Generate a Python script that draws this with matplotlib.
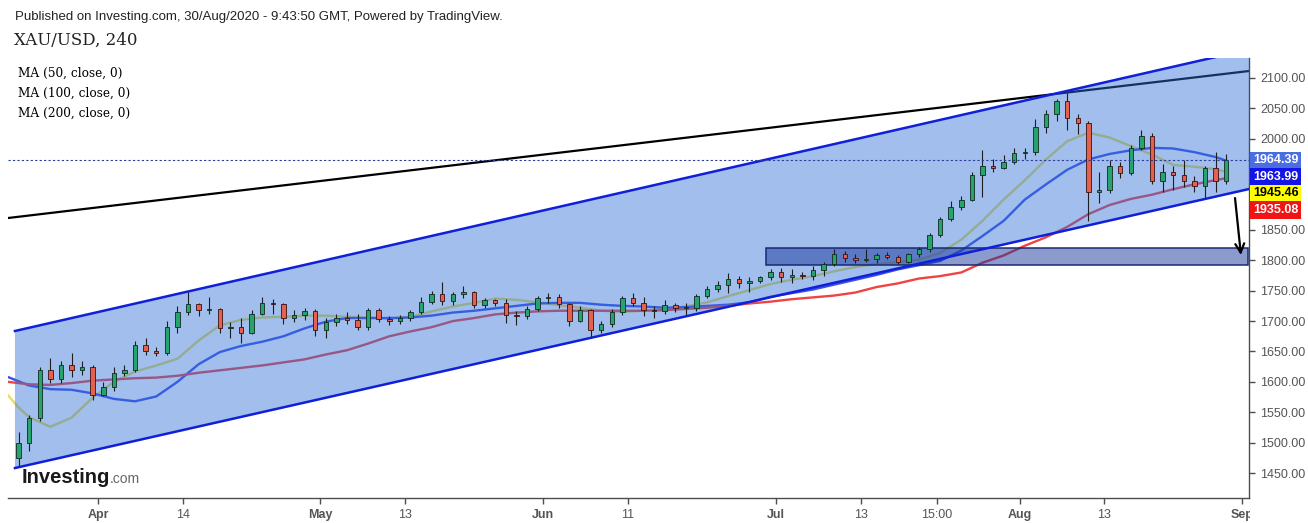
import numpy as np
import pandas as pd
import matplotlib
matplotlib.use('Agg')
import matplotlib.pyplot as plt
from matplotlib.transforms import Bbox, TransformedBbox

plt.rcParams['font.family'] = ['Liberation Sans', 'DejaVu Sans']

# ---- data (XAU/USD, one candle per trading day) ----
opens = [1475, 1500, 1540, 1620, 1605, 1628, 1620, 1625,
         1578, 1592, 1614, 1620, 1660, 1650, 1648, 1690, 1715, 1728, 1718, 1720, 1688, 1690, 1680, 1712,
         1730, 1728, 1705, 1710, 1716,
         1685, 1698, 1705, 1702, 1690, 1718, 1703, 1700, 1705, 1715, 1732, 1745, 1733, 1745, 1748, 1726,
         1734, 1730, 1710, 1708, 1720,
         1738, 1740, 1728, 1700, 1718, 1685, 1695, 1715, 1738, 1730, 1718, 1716, 1726, 1722, 1722, 1742,
         1752, 1760, 1770, 1762, 1766, 1772,
         1780, 1772, 1776, 1774, 1784, 1794, 1810, 1803, 1800, 1802, 1808, 1806, 1798, 1810, 1818, 1842,
         1868, 1888, 1900, 1940, 1955, 1952, 1962,
         1976, 1978, 2020, 2040, 2062, 2034, 2026, 1912, 1915, 1955, 1944, 1985, 2005, 1930, 1946, 1940,
         1930, 1922, 1952, 1930]
highs = [1517, 1545, 1625, 1640, 1635, 1648, 1635, 1628,
         1600, 1625, 1627, 1668, 1672, 1658, 1700, 1725, 1748, 1730, 1740, 1722, 1698, 1705, 1718, 1740,
         1736, 1730, 1718, 1722, 1720,
         1705, 1712, 1715, 1712, 1722, 1722, 1708, 1710, 1718, 1740, 1750, 1765, 1748, 1757, 1750, 1738,
         1737, 1736, 1716, 1725, 1742,
         1746, 1745, 1730, 1725, 1720, 1700, 1720, 1742, 1746, 1740, 1725, 1735, 1730, 1730, 1745, 1758,
         1766, 1779, 1775, 1772, 1775, 1786,
         1788, 1785, 1780, 1790, 1797, 1818, 1815, 1810, 1818, 1812, 1814, 1808, 1812, 1822, 1845, 1872,
         1898, 1906, 1945, 1981, 1966, 1973, 1984,
         1985, 2032, 2048, 2066, 2075, 2040, 2030, 1945, 1965, 1962, 1990, 2015, 2010, 1958, 1955, 1965,
         1938, 1956, 1978, 1975]
lows = [1462, 1486, 1535, 1598, 1598, 1608, 1612, 1570,
        1576, 1585, 1610, 1617, 1644, 1643, 1645, 1680, 1710, 1708, 1712, 1680, 1672, 1664, 1678, 1710,
        1712, 1695, 1698, 1702, 1675,
        1672, 1692, 1695, 1685, 1686, 1698, 1693, 1696, 1700, 1712, 1728, 1727, 1726, 1738, 1722, 1722,
        1725, 1697, 1693, 1703, 1716,
        1730, 1722, 1692, 1698, 1672, 1680, 1690, 1710, 1725, 1708, 1705, 1712, 1715, 1710, 1716, 1738,
        1748, 1746, 1755, 1748, 1762, 1768,
        1764, 1762, 1770, 1768, 1774, 1790, 1797, 1795, 1797, 1796, 1802, 1794, 1796, 1806, 1813, 1838,
        1865, 1882, 1898, 1905, 1946, 1950, 1958,
        1966, 1974, 2010, 2030, 2015, 2008, 1864, 1895, 1910, 1935, 1940, 1982, 1925, 1912, 1915, 1920,
        1912, 1902, 1912, 1925]
closes = [1500, 1540, 1620, 1605, 1628, 1620, 1625, 1578,
          1592, 1614, 1620, 1660, 1650, 1648, 1690, 1715, 1728, 1718, 1720, 1688, 1690, 1680, 1712, 1730,
          1728, 1705, 1710, 1716, 1685,
          1698, 1705, 1702, 1690, 1718, 1703, 1700, 1705, 1715, 1732, 1745, 1733, 1745, 1748, 1726, 1734,
          1730, 1710, 1708, 1720, 1738,
          1740, 1728, 1700, 1718, 1685, 1695, 1715, 1738, 1730, 1718, 1716, 1726, 1722, 1722, 1742, 1752,
          1760, 1770, 1762, 1766, 1772, 1780,
          1772, 1776, 1774, 1784, 1794, 1810, 1803, 1800, 1802, 1808, 1806, 1798, 1810, 1818, 1842, 1868,
          1888, 1900, 1940, 1955, 1952, 1962, 1976,
          1978, 2020, 2040, 2062, 2034, 2026, 1912, 1915, 1955, 1944, 1985, 2005, 1930, 1946, 1940, 1930,
          1922, 1952, 1930, 1964.39]

# moving averages, sampled along the chart
ma_dates = ['2020-03-19', '2020-03-20', '2020-03-23', '2020-03-25', '2020-03-27', '2020-03-31',
            '2020-04-02', '2020-04-06', '2020-04-08', '2020-04-13', '2020-04-15', '2020-04-17',
            '2020-04-21', '2020-04-23', '2020-04-27', '2020-04-29',
            '2020-05-01', '2020-05-05', '2020-05-07', '2020-05-11', '2020-05-13', '2020-05-15',
            '2020-05-19', '2020-05-21', '2020-05-25', '2020-05-27', '2020-05-29',
            '2020-06-02', '2020-06-04', '2020-06-08', '2020-06-10', '2020-06-12', '2020-06-16',
            '2020-06-18', '2020-06-22', '2020-06-24', '2020-06-26', '2020-06-30',
            '2020-07-02', '2020-07-06', '2020-07-08', '2020-07-10', '2020-07-14', '2020-07-16',
            '2020-07-20', '2020-07-22', '2020-07-24', '2020-07-28', '2020-07-30',
            '2020-08-03', '2020-08-05', '2020-08-07', '2020-08-11', '2020-08-13', '2020-08-17',
            '2020-08-19', '2020-08-21', '2020-08-25', '2020-08-27', '2020-08-28']
ma50 = [1578, 1558, 1542, 1526, 1541, 1574,
        1600, 1617, 1627, 1638, 1668, 1693, 1702, 1706, 1707, 1709,
        1709, 1707, 1706, 1704, 1707, 1716, 1724, 1730, 1737, 1735, 1731,
        1726, 1722, 1717, 1715, 1717, 1720, 1724, 1731, 1741, 1751, 1761,
        1768, 1774, 1782, 1789, 1794, 1797, 1801, 1812, 1834, 1865, 1900,
        1932, 1966, 1996, 2010, 2002, 1988, 1974, 1957, 1954, 1950, 1945.46]
ma100 = [1608, 1601, 1594, 1588, 1587, 1581,
         1572, 1568, 1576, 1600, 1629, 1649, 1659, 1666, 1675, 1688,
         1699, 1705, 1705, 1705, 1706, 1709, 1714, 1717, 1721, 1725, 1729,
         1730, 1730, 1727, 1725, 1724, 1722, 1723, 1725, 1727, 1731, 1740,
         1746, 1752, 1760, 1768, 1776, 1785, 1792, 1799, 1816, 1840, 1865,
         1900, 1925, 1949, 1966, 1975, 1981, 1985, 1984, 1978, 1970, 1963.99]
ma200 = [1600, 1598, 1596, 1595, 1598, 1602,
         1604, 1606, 1607, 1610, 1615, 1619, 1623, 1627, 1632, 1637,
         1645, 1652, 1663, 1675, 1683, 1690, 1700, 1705, 1711, 1714, 1716,
         1717, 1717, 1717, 1717, 1717, 1718, 1720, 1722, 1725, 1729, 1732,
         1736, 1739, 1742, 1747, 1756, 1762, 1770, 1774, 1780, 1796, 1808,
         1824, 1838, 1855, 1876, 1891, 1901, 1908, 1917, 1925, 1932, 1935.08]

# drawings (day position, price)
channel_x = [-7.84, 108.66]
channel_upper = [1683.7, 2147.0]
channel_lower = [1458.2, 1917.3]
trend_x = [-8.5, 108.66]
trend_y = [1869.6, 2111.5]
zone_x = [63.03, 108.6]
zone_y = [1793.0, 1820.3]
arrow_from = (107.34, 1902.5)
arrow_to = (107.9, 1808.7)

tick_dates = ['2020-04-01', '2020-04-14', '2020-05-01', '2020-05-13', '2020-06-01', '2020-06-11',
              '2020-07-01', '2020-07-13', '2020-07-22', '2020-08-03', '2020-08-13', '2020-09-01']
tick_labels = ['Apr', '14', 'May', '13', 'Jun', '11', 'Jul', '13', '15:00', 'Aug', '13', 'Sep']
tick_shift = [0, 0, 0, 0, 0, 0, 0, 0, 0.2, 0, 0, 0]
month_labels = ['Apr', 'May', 'Jun', 'Jul', 'Aug', 'Sep']
price_ticks = [1450, 1500, 1550, 1600, 1650, 1700, 1750, 1800, 1850, 2000, 2050, 2100]

# trading-day axis (no bars on Good Friday)
axis_days = pd.bdate_range('2020-03-19', '2020-09-01')
axis_days = axis_days[axis_days != pd.Timestamp('2020-04-10')]
day0 = axis_days.get_loc(pd.Timestamp('2020-04-01'))


def day_pos(d):
    return axis_days.get_loc(pd.Timestamp(d)) - day0


candle_days = axis_days[(axis_days >= '2020-03-20') & (axis_days <= '2020-08-28')]
cx = np.array([day_pos(d) for d in candle_days]) + 0.5
o = np.array(opens, float)
h = np.array(highs, float)
l = np.array(lows, float)
c = np.array(closes, float)
mx = np.array([day_pos(d) for d in ma_dates]) + 0.5

W, H = 1308, 523
fig = plt.figure(figsize=(W / 100, H / 100), dpi=100)
ax = fig.add_axes([8 / W, 25 / H, 1241 / W, 440 / H])
ax.set_xlim(-8.496, 108.66)
ax.set_ylim(1408.9, 2132.9)

# moving averages and long trend line sit under the channel fill
ax.plot(mx, ma50, color='#e8e05a', lw=1.7, zorder=2)
ax.plot(mx, ma100, color='#3a52ea', lw=1.7, zorder=2)
ax.plot(mx, ma200, color='#ee4444', lw=1.7, zorder=2)
ax.plot(trend_x, trend_y, color='black', lw=1.6, zorder=2)

# channel
ax.fill([channel_x[0], channel_x[1], channel_x[1], channel_x[0]],
        [channel_upper[0], channel_upper[1], channel_lower[1], channel_lower[0]],
        color='#2f6fd6', alpha=0.45, lw=0, zorder=3)
ax.fill([zone_x[0], zone_x[1], zone_x[1], zone_x[0]],
        [zone_y[0], zone_y[0], zone_y[1], zone_y[1]],
        facecolor=(0.08, 0.2, 0.6, 0.49), edgecolor='#1a2a70', lw=1.1, zorder=4)

# candles
up = c >= o
ax.vlines(cx, l, h, color='#1e1e1e', lw=0.8, zorder=5)
body = np.maximum(np.abs(c - o), 0.8)
ax.bar(cx[up], body[up], bottom=o[up], width=0.42, color='#26a36f',
       edgecolor='#112a1e', lw=0.6, zorder=6)
ax.bar(cx[~up], body[~up], bottom=c[~up], width=0.42, color='#e4604f',
       edgecolor='#3a1010', lw=0.6, zorder=6)

ax.plot(channel_x, channel_upper, color='#1020d8', lw=1.8, zorder=7)
ax.plot(channel_x, channel_lower, color='#1020d8', lw=1.8, zorder=7)
ax.axhline(c[-1], color='#2c3e9a', lw=0.8, ls=(0, (2, 2)), zorder=7)
ax.annotate('', xy=arrow_to, xytext=arrow_from, zorder=9,
            arrowprops=dict(arrowstyle='->', color='black', lw=1.6,
                            mutation_scale=16, shrinkA=0, shrinkB=0))

# axes styling
for s in ['left', 'top']:
    ax.spines[s].set_visible(False)
for s in ['bottom', 'right']:
    ax.spines[s].set_color('#4d4d4d')
    ax.spines[s].set_linewidth(1.0)
ax.yaxis.tick_right()
ax.set_yticks(price_ticks)
ax.set_yticklabels([f'{v:.2f}' for v in price_ticks])
ax.tick_params(axis='y', length=4, width=1, color='#4d4d4d', labelcolor='#555555',
               labelsize=9, pad=4)
ax.set_xticks([day_pos(d) + s for d, s in zip(tick_dates, tick_shift)])
ax.set_xticklabels(tick_labels)
ax.tick_params(axis='x', length=4, width=1, color='#4d4d4d', labelcolor='#555555',
               labelsize=9, pad=4)
clip = TransformedBbox(Bbox([[0, 0], [1250 / W, 1]]), fig.transFigure)
for t in ax.get_xticklabels():
    if t.get_text() in month_labels:
        t.set_fontweight('bold')
    t.set_clip_box(clip)
    t.set_clip_on(True)

# last-value labels on the price scale
last_labels = [(c[-1], '#4a6ee0', 'white'), (ma100[-1], '#1414e6', 'white'),
               (ma50[-1], '#ffff00', 'black'), (ma200[-1], '#f01414', 'white')]
for i, (v, bg, fg) in enumerate(last_labels):
    ax.annotate(f'{v:.2f}', xy=(1, c[-1]), xycoords=('axes fraction', 'data'),
                xytext=(4, -16.5 * i), textcoords='offset pixels', ha='left', va='center',
                fontsize=9, fontweight='bold', color=fg, annotation_clip=False, zorder=10,
                bbox=dict(boxstyle='square,pad=0.22', fc=bg, ec='none'))

# header texts
fig.text(15 / W, 1 - 17 / H, 'Published on Investing.com, 30/Aug/2020 - 9:43:50 GMT, Powered by TradingView.',
         fontsize=9.5, color='#222222', va='center')
fig.text(14 / W, 1 - 40 / H, 'XAU/USD, 240', family='DejaVu Serif', fontsize=12,
         color='#222222', va='center')
for k, lab in enumerate(['MA (50, close, 0)', 'MA (100, close, 0)', 'MA (200, close, 0)']):
    fig.text(18 / W, 1 - (73 + 20 * k) / H, lab, family='DejaVu Serif', fontsize=8.7,
             color='black', va='center')

# watermark
fig.text(22 / W, 1 - 483 / H, 'Investing', fontsize=14.5, fontweight='bold', color='#1a1a1a',
         va='baseline')
fig.text(110 / W, 1 - 483 / H, '.com', fontsize=10, color='#666666', va='baseline')

fig.savefig('out.png', dpi=100)
